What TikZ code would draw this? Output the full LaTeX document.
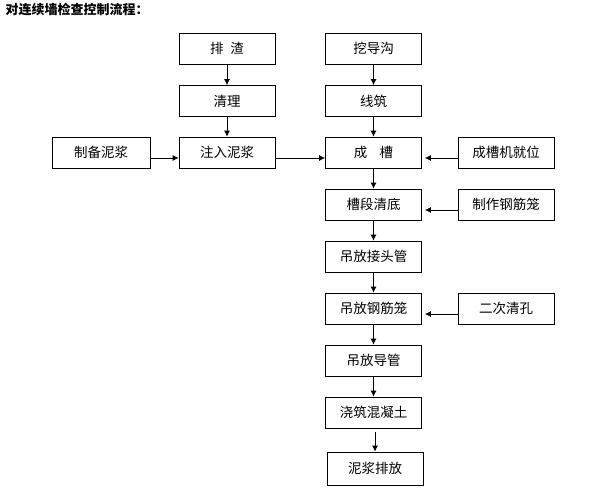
\documentclass[tikz,border=0pt]{standalone}
\usepackage{fontspec}
\newfontfamily\cjk{Noto Sans CJK SC}
\usetikzlibrary{arrows.meta}

\tikzset{
  stepbox/.style={draw, line width=0.8pt, minimum width=96pt, minimum height=31pt,
                  inner sep=0pt, font=\cjk\fontsize{13.5}{15}\selectfont},
  arr/.style={line width=0.8pt, -{Latex[length=6pt,width=6pt]}}
}

\begin{document}
\begin{tikzpicture}[x=1pt,y=-1pt]
    \useasboundingbox (0,0) rectangle (609,493);

    \node[anchor=west, font=\cjk\bfseries\fontsize{13}{15}\selectfont] (title) at (2,10) {对连续墙检查控制流程：};

    % Left column
    \node[stepbox] (pz)  at (227,48.5)  {排\hspace{0.5em}渣};
    \node[stepbox] (ql)  at (227,101)   {清理};
    \node[stepbox] (zr)  at (227,152.5) {注入泥浆};
    \node[stepbox, minimum width=98pt] (zb) at (101,152.5) {制备泥浆};

    % Main column
    \node[stepbox] (wdg) at (373.5,48.5)  {挖导沟};
    \node[stepbox] (xz)  at (373.5,101)   {线筑};
    \node[stepbox] (cc)  at (373.5,152.5) {成\hspace{0.9em}槽};
    \node[stepbox] (cd)  at (373.5,204.5) {槽段清底};
    \node[stepbox] (jtg) at (373.5,256.5) {吊放接头管};
    \node[stepbox] (gjl) at (373.5,308.5) {吊放钢筋笼};
    \node[stepbox] (dg)  at (373.5,360.5) {吊放导管};
    \node[stepbox] (jz)  at (373.5,412.5) {浇筑混凝土};
    \node[stepbox, minimum height=33pt] (pf) at (375,468.5) {泥浆排放};

    % Right column
    \node[stepbox] (jw)  at (506,152.5) {成槽机就位};
    \node[stepbox] (zz)  at (506,204.5) {制作钢筋笼};
    \node[stepbox] (qk)  at (506,308.5) {二次清孔};

    % Vertical arrows
    \draw[arr] (pz) -- (ql);
    \draw[arr] (ql) -- (zr);
    \draw[arr] (wdg) -- (xz);
    \draw[arr] (xz) -- (cc);
    \draw[arr] (cc) -- (cd);
    \draw[arr] (cd) -- (jtg);
    \draw[arr] (jtg) -- (gjl);
    \draw[arr] (gjl) -- (dg);
    \draw[arr] (dg) -- (jz);
    \draw[arr, shorten <=4pt] (jz.south -| pf.north) -- (pf.north);

    % Horizontal arrows
    \draw[arr] ([yshift=-5.5pt]zb.east) -- ([yshift=-5.5pt]zr.west);
    \draw[arr] ([yshift=-5.5pt]zr.east) -- ([yshift=-5.5pt]cc.west);
    \draw[arr, shorten >=3pt] ([yshift=-5.5pt]jw.west) -- ([yshift=-5.5pt]cc.east);
    \draw[arr, shorten >=3pt] ([yshift=-5.5pt]zz.west) -- ([yshift=-5.5pt]cd.east);
    \draw[arr, shorten >=3pt] ([yshift=-5.5pt]qk.west) -- ([yshift=-5.5pt]gjl.east);
\end{tikzpicture}
\end{document}
